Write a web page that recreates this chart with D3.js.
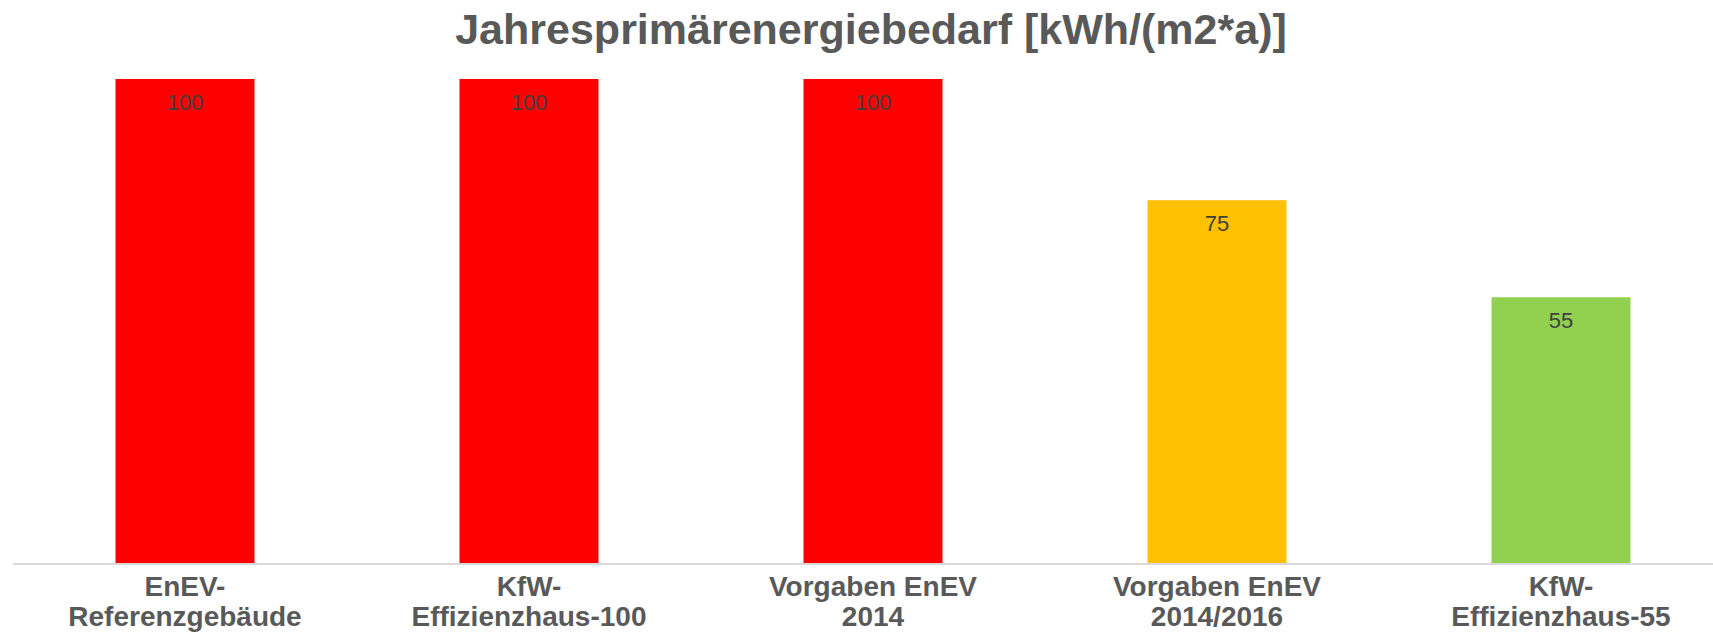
<!DOCTYPE html>
<html>
<head>
<meta charset="utf-8">
<script src="https://cdn.jsdelivr.net/npm/d3@7"></script>
<style>
  html, body { margin: 0; padding: 0; background: #fff; }
  svg { display: block; }
</style>
</head>
<body>
<svg id="chart" width="1713" height="635"></svg>
<script>
const title = "Jahresprimärenergiebedarf [kWh/(m2*a)]";
const categories = [
  ["EnEV-", "Referenzgebäude"],
  ["KfW-", "Effizienzhaus-100"],
  ["Vorgaben EnEV", "2014"],
  ["Vorgaben EnEV", "2014/2016"],
  ["KfW-", "Effizienzhaus-55"]
];
const values = [100, 100, 100, 75, 55];
const colors = ["#FF0000", "#FF0000", "#FF0000", "#FFC000", "#92D050"];

const W = 1713, H = 635;
const svg = d3.select("#chart");
const font = "'Liberation Sans', Arial, sans-serif";

const x = d3.scaleBand()
  .domain(d3.range(categories.length))
  .range([13, 1733])
  .paddingInner(0.596)
  .paddingOuter(0.298);

const y = d3.scaleLinear().domain([0, 100]).range([564, 79]);

svg.append("text")
  .attr("x", 871).attr("y", 44)
  .attr("text-anchor", "middle")
  .attr("font-family", font)
  .attr("font-weight", "bold")
  .attr("font-size", 43)
  .attr("fill", "#595959")
  .text(title);

svg.selectAll("rect.bar")
  .data(values)
  .join("rect")
  .attr("class", "bar")
  .attr("x", (d, i) => x(i))
  .attr("width", x.bandwidth())
  .attr("y", d => y(d))
  .attr("height", d => y(0) - y(d))
  .attr("fill", (d, i) => colors[i]);

svg.selectAll("text.val")
  .data(values)
  .join("text")
  .attr("class", "val")
  .attr("x", (d, i) => x(i) + x.bandwidth() / 2)
  .attr("y", d => y(d) + 31)
  .attr("text-anchor", "middle")
  .attr("font-family", font)
  .attr("font-size", 22)
  .attr("fill", "#404040")
  .text(d => d);

const axis = d3.axisBottom(x).tickSize(0).tickFormat("");
const gx = svg.append("g").attr("transform", "translate(0,564)").call(axis);
gx.select(".domain").attr("stroke", "#d9d9d9").attr("stroke-width", 2)
  .attr("d", "M13,0H1713");

const labels = svg.selectAll("text.cat")
  .data(categories)
  .join("text")
  .attr("class", "cat")
  .attr("text-anchor", "middle")
  .attr("font-family", font)
  .attr("font-weight", "bold")
  .attr("font-size", 28)
  .attr("fill", "#595959");
labels.each(function(d, i) {
  const t = d3.select(this);
  d.forEach((line, j) => {
    t.append("tspan")
      .attr("x", x(i) + x.bandwidth() / 2)
      .attr("y", 596 + j * 30)
      .text(line);
  });
});
</script>
</body>
</html>
